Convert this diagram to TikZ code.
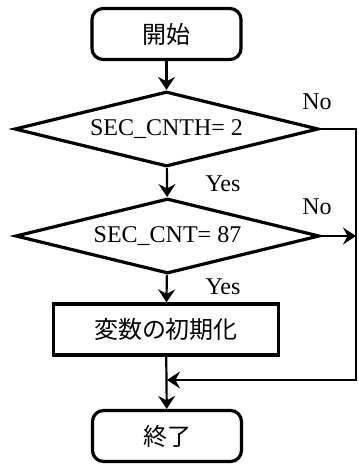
\documentclass[tikz,border=0pt]{standalone}
\usepackage{fontspec}
\setmainfont{Liberation Serif}
\newfontfamily\cjk{Noto Sans CJK JP}
\usetikzlibrary{shapes.geometric,arrows.meta}

\tikzset{
  base/.style={font=\fontsize{24}{27}\selectfont, inner sep=0pt},
  terminal/.style={base, draw, line width=3.2pt, rounded corners=11pt,
    minimum width=149pt, minimum height=51pt},
  process/.style={base, draw, line width=3.2pt,
    minimum width=225pt, minimum height=51pt},
  decision/.style={base, draw, line width=3.2pt, shape=diamond, aspect=4,
    minimum width=304pt, minimum height=75pt},
  tip/.style={-{Stealth[length=13pt,width=17pt,inset=4.5pt]}},
  flow/.style={line width=2.2pt, tip},
  back/.style={line width=1.6pt},
  lbl/.style={base}
}

\begin{document}
\begin{tikzpicture}[x=1pt,y=-1pt]
  \useasboundingbox (0,0) rectangle (359,464);

  % main column
  \node[terminal] (start) at (166.5,34) {\cjk 開始};
  \node[decision] (d1) at (166.5,129) {SEC\_CNTH= 2};
  \node[decision] (d2) at (167.5,236) {SEC\_CNT= 87};
  \node[process] (init) at (166,329.5) {\cjk 変数の初期化};
  \node[terminal] (stop) at (167,436) {\cjk 終了};

  % bypass route on the right
  \coordinate (r1) at (356,129);
  \coordinate (r2) at (356,380);
  \coordinate (m) at (167,380);

  \draw[flow] (start) -- (d1);
  \draw[flow] (d1) -- (d2);
  \draw[flow] (d2) -- (init);
  \draw[flow] (init) -- (stop);

  \draw[back, tip] (d1.east) -- (r1) -- (r2) -- (m);
  \draw[back, tip] (d2.east) -- (r2 |- d2.east);

  % branch labels
  \node[lbl] (no1) at (317,102) {No};
  \node[lbl] (yes1) at (223,184) {Yes};
  \node[lbl] (no2) at (317,207) {No};
  \node[lbl] (yes2) at (223,287) {Yes};
\end{tikzpicture}
\end{document}
